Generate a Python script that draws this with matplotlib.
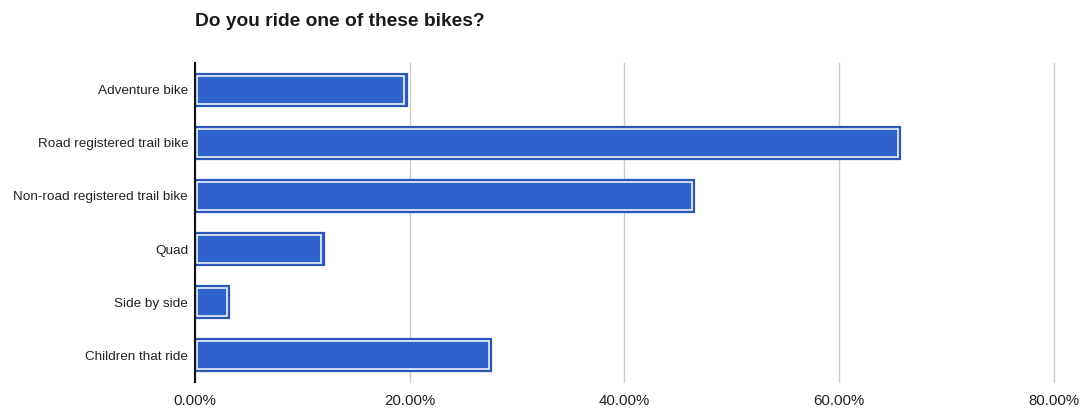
import matplotlib
matplotlib.use("Agg")
import matplotlib.pyplot as plt
from matplotlib.ticker import FuncFormatter

categories = [
    "Adventure bike",
    "Road registered trail bike",
    "Non-road registered trail bike",
    "Quad",
    "Side by side",
    "Children that ride",
]
percent = [19.7, 65.7, 46.5, 12.0, 3.2, 27.6]
xticks = [0, 20, 40, 60, 80]

plt.rcParams["font.family"] = ["Liberation Sans", "DejaVu Sans"]

blue = "#3062cc"
edge_blue = "#2a57b8"
W, H = 1082, 408
fig = plt.figure(figsize=(W / 100, H / 100), dpi=100)
ax_box = [0.1802, 0.0649, 0.7939, 0.7795]
ax = fig.add_axes(ax_box)

xmax = 80
nrows = len(categories)
bar_h = 0.61
# pixel sizes of one data unit, used to inset the white outline
px_x = ax_box[2] * W / xmax
px_y = ax_box[3] * H / nrows
inset = 2.5

ypos = list(range(nrows))
ax.barh(ypos, percent, height=bar_h, color=blue, edgecolor=edge_blue,
        linewidth=1.6, zorder=3)
ax.barh(ypos, [v - 2 * inset / px_x for v in percent],
        left=inset / px_x, height=bar_h - 2 * inset / px_y,
        color="none", edgecolor="white", linewidth=1.1, zorder=4)

ax.set_ylim(nrows - 0.5, -0.5)
ax.set_xlim(0, xmax)
ax.set_yticks(ypos)
ax.set_yticklabels(categories, fontsize=9.7, color="#222222")
ax.set_xticks(xticks)
ax.xaxis.set_major_formatter(FuncFormatter(lambda v, p: f"{v:.2f}%"))
ax.tick_params(axis="x", labelsize=10.8, colors="#222222", length=0, pad=9)
ax.tick_params(axis="y", length=0, pad=5)

ax.grid(axis="x", color="#cccccc", linewidth=1, zorder=0)
for line in ax.get_xgridlines():
    line.set_clip_on(False)
for s in ["top", "right", "bottom"]:
    ax.spines[s].set_visible(False)
ax.spines["left"].set_color("#111111")
ax.spines["left"].set_linewidth(1.5)
ax.spines["left"].set_zorder(5)

fig.text(195 / W, 1 - 22 / H, "Do you ride one of these bikes?",
         fontsize=13.8, fontweight="bold", color="#1a1a1a",
         ha="left", va="center")

fig.savefig("out.png", dpi=100, facecolor="white")
